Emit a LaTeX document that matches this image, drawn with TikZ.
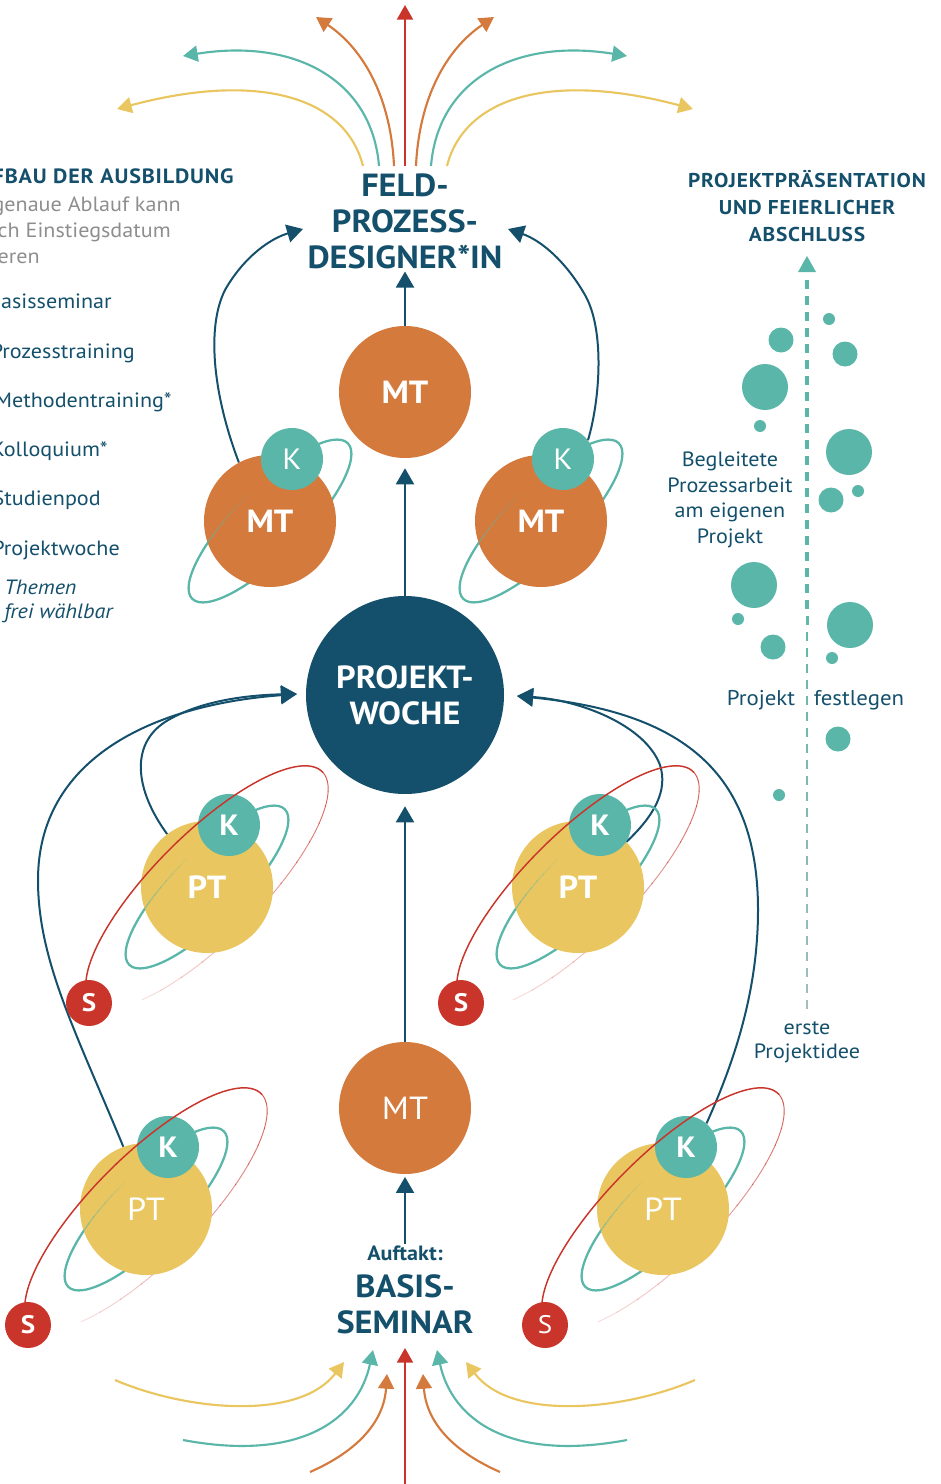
\documentclass[tikz,border=0pt]{standalone}
\usepackage{fontspec}
\setmainfont{PT Sans}[FakeStretch=1.07]
\usetikzlibrary{arrows.meta}
\definecolor{dblue}{HTML}{14506B}
\definecolor{orng}{HTML}{D57A3D}
\definecolor{yel}{HTML}{E9C660}
\definecolor{tl}{HTML}{5AB6A9}
\definecolor{rd}{HTML}{C9352A}
\definecolor{gry}{HTML}{8E8E8E}
\definecolor{dgry}{HTML}{AFBDBD}
\newcommand\fs[1]{\fontsize{#1}{#1}\selectfont}
\pgfdeclarelayer{bg}
\pgfsetlayers{bg,main}
\tikzset{
  ball/.style={circle, inner sep=0pt, text=white},
  mtball/.style={ball, fill=orng, minimum size=99pt, font=\fs{24}\bfseries},
  ptball/.style={ball, fill=yel, minimum size=99pt, font=\fs{24}\bfseries},
  kball/.style={ball, fill=tl, minimum size=46.5pt, font=\fs{22}\bfseries},
  sball/.style={ball, fill=rd, minimum size=34.5pt, font=\fs{19}\bfseries},
  flow/.style={dblue, line width=1.5pt, -{Triangle[length=12pt,width=13.5pt]}},
  fount/.style={line width=1.6pt, -{Triangle[length=11pt,width=12pt]}},
  side/.style={text=dblue, font=\fs{15.5}, inner sep=0pt},
  grey/.style={text=gry, font=\fs{15.5}, inner sep=0pt},
  head/.style={text=dblue, font=\fs{15.5}\bfseries\addfontfeature{LetterSpace=4}, inner sep=0pt},
  big/.style={text=dblue, align=center, font=\fontsize{24}{27}\selectfont\bfseries, inner sep=1pt},
}
\newcommand\tealorbit[2]{\draw[tl, line width=1.7pt, rotate around={45:(#1,#2)}] (#1,#2) ellipse [x radius=82.5pt, y radius=25.5pt];}
\newcommand\tealfront[2]{\foreach \s in {0,...,7}{%
  \pgfmathsetmacro\ta{232+\s*5}\pgfmathsetmacro\tb{\ta+5.5}\pgfmathsetmacro\op{0.7-0.085*\s}%
  \draw[tl, line width=0.8pt, opacity=\op] plot[domain=\ta:\tb, samples=4, variable=\t] ({#1+0.7071*(110*cos(\t)+34*sin(\t))},{#2+0.7071*(-110*cos(\t)+34*sin(\t))});}}
\newcommand\redback[2]{\foreach \s in {0,...,13}{%
  \pgfmathsetmacro\ta{\s*10}\pgfmathsetmacro\tb{\s*10+10.5}\pgfmathsetmacro\op{0.85-0.052*\s}%
  \draw[rd, line width=0.7pt, opacity=\op] plot[domain=\ta:\tb, samples=6, variable=\t] ({#1+0.7071*(163*cos(\t)+53*sin(\t))},{#2+0.7071*(-163*cos(\t)+53*sin(\t))});}}
\newcommand\redfront[2]{\draw[rd, line width=1.1pt] plot[domain=180:361, samples=70, variable=\t] ({#1+0.7071*(163*cos(\t)+53*sin(\t))},{#2+0.7071*(-163*cos(\t)+53*sin(\t))});}
\begin{document}
\begin{tikzpicture}[x=0.75pt,y=-0.75pt]
\useasboundingbox (0,0) rectangle (940,1484);
\clip (0,0) rectangle (940,1484);

% ---------- main chain ----------
\node[big] (feld) at (405,221) {FELD-\\PROZESS-\\DESIGNER*IN};
\node[mtball] (mtT) at (405,392) {MT};
\node[circle, fill=dblue, minimum size=148.5pt, inner sep=0pt, text=white, align=center, font=\fontsize{24}{27}\selectfont\bfseries] (pw) at (405,695) {PROJEKT-\\WOCHE};
\node[mtball, font=\fs{24}] (mtB) at (405,1108) {MT};
\node[text=dblue, font=\fs{15.5}\bfseries, inner sep=1pt] (auft) at (405,1253) {Auftakt:};
\node[big] (basis) at (405,1304) {BASIS-\\SEMINAR};

% ---------- fountain top ----------
\coordinate (ftR0) at (405,166); \coordinate (ftR1) at (405,5);
\coordinate (ftOL0) at (394,166); \coordinate (ftOL1) at (316,17);
\coordinate (ftOR0) at (416,166); \coordinate (ftOR1) at (494,17);
\coordinate (ftTL0) at (379,166); \coordinate (ftTL1) at (183,56);
\coordinate (ftTR0) at (431,166); \coordinate (ftTR1) at (627,56);
\coordinate (ftYL0) at (363,166); \coordinate (ftYL1) at (117,109);
\coordinate (ftYR0) at (447,166); \coordinate (ftYR1) at (693,109);
\draw[fount, rd] (ftR0) -- (ftR1);
\draw[fount, orng] (ftOL0) .. controls (391,100) and (365,50) .. (ftOL1);
\draw[fount, orng] (ftOR0) .. controls (419,100) and (445,50) .. (ftOR1);
\draw[fount, tl] (ftTL0) .. controls (372,80) and (295,38) .. (ftTL1);
\draw[fount, tl] (ftTR0) .. controls (438,80) and (515,38) .. (ftTR1);
\draw[fount, yel] (ftYL0) .. controls (345,95) and (255,72) .. (ftYL1);
\draw[fount, yel] (ftYR0) .. controls (465,95) and (555,72) .. (ftYR1);

% ---------- fountain bottom ----------
\coordinate (fbR0) at (405,1484); \coordinate (fbR1) at (405,1348);
\coordinate (fbOL0) at (310,1472); \coordinate (fbOL1) at (387,1374);
\coordinate (fbOR0) at (500,1472); \coordinate (fbOR1) at (423,1374);
\coordinate (fbTL0) at (183,1440); \coordinate (fbTL1) at (373,1350);
\coordinate (fbTR0) at (627,1440); \coordinate (fbTR1) at (437,1350);
\coordinate (fbYL0) at (115,1380); \coordinate (fbYL1) at (344,1362);
\coordinate (fbYR0) at (695,1380); \coordinate (fbYR1) at (466,1362);
\draw[fount, rd] (fbR0) -- (fbR1);
\draw[fount, orng] (fbOL0) .. controls (360,1450) and (384,1420) .. (fbOL1);
\draw[fount, orng] (fbOR0) .. controls (450,1450) and (426,1420) .. (fbOR1);
\draw[fount, tl] (fbTL0) .. controls (300,1462) and (358,1420) .. (fbTL1);
\draw[fount, tl] (fbTR0) .. controls (510,1462) and (452,1420) .. (fbTR1);
\draw[fount, yel] (fbYL0) .. controls (190,1412) and (300,1420) .. (fbYL1);
\draw[fount, yel] (fbYR0) .. controls (620,1412) and (510,1420) .. (fbYR1);

% ---------- upper MT planets ----------
\tealorbit{270}{521}
\node[mtball] (mtL) at (270,521) {MT};
\tealfront{270}{521}
\node[kball, font=\fs{22}] (kL) at (292,459) {K};

\tealorbit{541}{521}
\node[mtball] (mtR) at (541,521) {MT};
\tealfront{541}{521}
\node[kball, font=\fs{22}] (kR) at (563,459) {K};

% ---------- PT planets ----------
% mid left
\tealorbit{207}{887}\redback{207}{887}
\node[ptball] (ptML) at (207,887) {PT};
\tealfront{207}{887}
\node[kball] (kML) at (229,825) {K};
\redfront{207}{887}
\node[sball] (sML) at (89,1003) {S};
% mid right
\tealorbit{578}{887}\redback{578}{887}
\node[ptball] (ptMR) at (578,887) {PT};
\tealfront{578}{887}
\node[kball] (kMR) at (600,825) {K};
\redfront{578}{887}
\node[sball] (sMR) at (461,1003) {S};
% bottom left
\tealorbit{146}{1209}\redback{146}{1209}
\node[ptball, font=\fs{24}] (ptBL) at (146,1209) {PT};
\tealfront{146}{1209}
\node[kball] (kBL) at (168,1147) {K};
\redfront{146}{1209}
\node[sball] (sBL) at (28,1325) {S};
% bottom right
\tealorbit{663}{1209}\redback{663}{1209}
\node[ptball, font=\fs{24}] (ptBR) at (663,1209) {PT};
\tealfront{663}{1209}
\node[kball] (kBR) at (686,1147) {K};
\redfront{663}{1209}
\node[sball, font=\fs{19}] (sBR) at (545,1325) {S};

% ---------- connectors ----------
\begin{pgfonlayer}{bg}
\draw[flow, shorten >=2pt] (auft.north) -- (mtB.south);
\draw[flow, shorten >=9pt] (mtB.north) -- (pw.south);
\draw[flow, shorten >=7.5pt] (pw.north) -- (mtT.south);
\draw[flow, shorten >=1pt] (mtT.north) -- (feld.south);
\coordinate (pwL) at (297,694);
\coordinate (pwR) at (517,696);
\coordinate (fdL) at (303,229);
\coordinate (fdR) at (508,229);
\draw[flow] (ptBL.110) .. controls (75,1030) and (38,960) .. (38,880) .. controls (38,760) and (150,705) .. (pwL);
\draw[flow] (ptML.127) .. controls (135,790) and (130,745) .. (165,722) .. controls (200,700) and (250,695) .. (pwL);
\draw[flow] (kMR.-33) .. controls (655,815) and (668,790) .. (660,765) .. controls (645,725) and (580,700) .. (pwR);
\draw[flow] (kBR.49) .. controls (735,1060) and (758,990) .. (758,910) .. controls (758,770) and (680,712) .. (pwR);
\draw[flow] (mtL.118) .. controls (215,400) and (205,330) .. (225,290) .. controls (245,255) and (272,238) .. (fdL);
\draw[flow] (kR.37) .. controls (600,400) and (605,330) .. (585,295) .. controls (565,260) and (540,240) .. (fdR);
\end{pgfonlayer}

% ---------- dashed timeline ----------
\coordinate (dtop) at (807,256);
\coordinate (dbot) at (807,1005);
\fill[tl] (798,272) -- (816,272) -- (dtop) -- cycle;
\foreach \i in {0,...,45}{%
  \pgfmathsetmacro\ya{280+\i*16}\pgfmathsetmacro\yb{\ya+9}%
  \pgfmathtruncatemacro\p{100-max(0,\i-18)*3.2}%
  \pgfmathsetmacro\w{3-\i*0.035}%
  \draw[color=tl!\p!dgry, line width=\w pt] (807,\ya) -- (807,\yb);
}

% ---------- bubbles ----------
\foreach \bx/\by/\br [count=\n] in {829/319/6, 781/340/12.5, 845/354/12.5, 765/387/23, 760/426/6, 849/452/23, 831/500/12.5, 858/491/6, 754/585/23, 738/619/6, 773/647/12.5, 850/625/23, 832/658/6, 838/739/12.5, 779/795/6}{%
  \node[circle, fill=tl, inner sep=0pt, minimum size=\br*1.5pt] (bub\n) at (\bx,\by) {};
}

% ---------- right texts ----------
\node[head, align=center, font=\fontsize{15}{20.5}\selectfont\bfseries\addfontfeature{LetterSpace=4}] (praes) at (807,206) {PROJEKTPRÄSENTATION\\UND FEIERLICHER\\ABSCHLUSS};
\node[side, align=center, font=\fontsize{15.5}{19.3}\selectfont] (begl) at (730,500) {Begleitete\\Prozessarbeit\\am eigenen\\Projekt};
\node[side, font=\fs{16}] (proj) at (761,700) {Projekt};
\node[side, font=\fs{16}] (festl) at (859,700) {festlegen};
\node[side, align=center, font=\fontsize{15.5}{18.3}\selectfont] (erste) at (807,1042) {erste\\Projektidee};

% ---------- left texts ----------
\node[head, anchor=base east] (aufbau) at (234,184) {AUFBAU DER AUSBILDUNG};
\node[grey, anchor=base east] (g1) at (181,211) {Der genaue Ablauf kann};
\node[grey, anchor=base east] (g2) at (171,237) {je nach Einstiegsdatum};
\node[grey, anchor=base east] (g3) at (40,263) {variieren};
\node[side, anchor=base east] (l1) at (112,308) {Basisseminar};
\node[side, anchor=base east] (l2) at (135,358) {Prozesstraining};
\node[side, anchor=base east] (l3) at (172,407) {Methodentraining*};
\node[side, anchor=base east] (l4) at (108,456) {Kolloquium*};
\node[side, anchor=base east] (l5) at (101,505) {Studienpod};
\node[side, anchor=base east] (l6) at (120,555) {Projektwoche};
\node[side, anchor=base west, font=\fs{15.5}\itshape] (l7) at (4,594) {Themen};
\node[side, anchor=base west, font=\fs{15.5}\itshape] (l8) at (4,618) {frei wählbar};
\end{tikzpicture}
\end{document}
